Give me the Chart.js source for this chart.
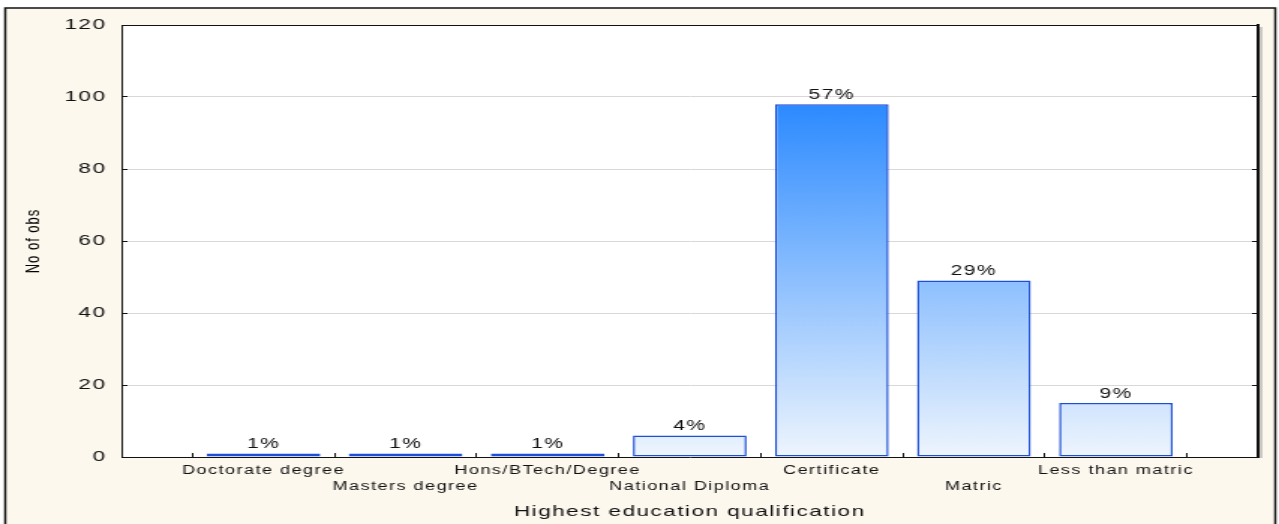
<!DOCTYPE html>
<html>
<head>
<meta charset="utf-8">
<script src="https://cdn.jsdelivr.net/npm/chart.js@4.4.1/dist/chart.umd.min.js"></script>
<style>
  html, body { margin: 0; padding: 0; background: #fff; overflow: hidden; }
</style>
</head>
<body>
<!-- the source picture is stretched sideways, so the canvas is drawn narrow and widened by css -->
<canvas id="chart" width="853" height="524" style="display:block;width:1279px;height:524px"></canvas>
<script>
const categories = [
  "Doctorate degree",
  "Masters degree",
  "Hons/BTech/Degree",
  "National Diploma",
  "Certificate",
  "Matric",
  "Less than matric",
];
const counts = [1, 1, 1, 6, 98, 49, 15];
// tick labels alternate between two rows
const labelRow = [0, 1, 0, 1, 0, 1, 0];
const yMin = 0;
const yMax = 120;
const yStep = 20;
const xTitle = "Highest education qualification";
const yTitle = "No of obs";

const total = counts.reduce((a, b) => a + b, 0);
// empty slot on each side, as in the original
const labels = ["", ...categories.map((c, i) => (labelRow[i] ? ["", c] : c)), ""];
const values = [null, ...counts, null];

const FONT = '"Liberation Sans", Arial, sans-serif';
const INK = "#111";
Chart.defaults.font.family = FONT;
Chart.defaults.color = INK;

function barFill(context) {
  const chart = context.chart;
  if (!chart.chartArea) return "#8fc4fa";
  const y = chart.scales.y;
  const g = chart.ctx.createLinearGradient(0, y.getPixelForValue(0), 0, y.getPixelForValue(100));
  g.addColorStop(0, "#eef5fd");
  g.addColorStop(1, "#2888ff");
  return g;
}

const frame = {
  id: "frame",
  beforeDraw(chart) {
    const { ctx, chartArea: a, width, height } = chart;
    ctx.save();
    ctx.fillStyle = "#fff";
    ctx.fillRect(0, 0, width, height);
    ctx.fillStyle = "#fdf8ee";
    ctx.fillRect(3.5, 8, 847, height);
    ctx.strokeStyle = "#111";
    ctx.lineWidth = 1.5;
    ctx.strokeRect(3.5, 8, 847, height + 10);
    ctx.fillStyle = "#fff";
    ctx.fillRect(a.left, a.top, a.width, a.height);
    ctx.restore();
    ctx.letterSpacing = "1px";
  },
  afterDraw(chart) {
    const { ctx, chartArea: a } = chart;
    ctx.save();
    ctx.strokeStyle = "#111";
    ctx.lineWidth = 1;
    ctx.beginPath();
    ctx.moveTo(a.left, a.top + 0.5);
    ctx.lineTo(a.right, a.top + 0.5);
    ctx.stroke();
    ctx.strokeStyle = "#999";
    ctx.beginPath();
    ctx.moveTo(a.right + 2, a.top + 2);
    ctx.lineTo(a.right + 2, a.bottom + 1);
    ctx.stroke();
    ctx.restore();
  },
};

const percentLabels = {
  id: "percentLabels",
  afterDatasetsDraw(chart) {
    const ctx = chart.ctx;
    const meta = chart.getDatasetMeta(0);
    ctx.save();
    ctx.font = "14px " + FONT;
    ctx.fillStyle = INK;
    ctx.textAlign = "center";
    ctx.textBaseline = "middle";
    meta.data.forEach((bar, i) => {
      const v = values[i];
      if (v == null) return;
      ctx.fillText(Math.round((v / total) * 100) + "%", bar.x, bar.y - 9);
    });
    ctx.restore();
  },
};

new Chart(document.getElementById("chart"), {
  type: "bar",
  data: {
    labels,
    datasets: [{
      data: values,
      backgroundColor: barFill,
      borderColor: "#1c4fd8",
      borderWidth: 1.5,
      borderSkipped: false,
      barPercentage: 0.8,
      categoryPercentage: 1,
    }],
  },
  options: {
    responsive: false,
    animation: false,
    layout: { padding: { left: 0, right: 14, top: 25, bottom: 0 } },
    plugins: {
      legend: { display: false },
      tooltip: { enabled: false },
    },
    scales: {
      x: {
        offset: false,
        grid: { drawOnChartArea: false, tickLength: -4, tickColor: "#111" },
        border: { color: "#111", width: 1 },
        ticks: {
          autoSkip: false,
          maxRotation: 0,
          minRotation: 0,
          padding: 10,
          color: INK,
          font: { size: 12, lineHeight: 1.33 },
        },
        title: {
          display: true,
          text: xTitle,
          color: INK,
          font: { size: 15 },
          padding: { top: 0, bottom: 3 },
        },
        afterFit(s) { s.height = 67; },
      },
      y: {
        min: yMin,
        max: yMax,
        ticks: { stepSize: yStep, padding: 14, color: INK, font: { size: 15 } },
        grid: { color: "#d8d8d8", tickLength: -4, tickColor: "#111" },
        border: { color: "#111", width: 1 },
        title: {
          display: true,
          text: yTitle,
          color: "#000",
          font: { size: 13 },
          padding: { top: 15, bottom: 0 },
        },
        afterFit(s) { s.width = 81; },
      },
      y2: {
        position: "right",
        min: yMin,
        max: yMax,
        ticks: { display: false, stepSize: yStep },
        grid: { drawOnChartArea: false, tickLength: -4, tickColor: "#111" },
        border: { color: "#111", width: 2 },
        afterFit(s) { s.width = 0; },
      },
    },
  },
  plugins: [frame, percentLabels],
});
</script>
</body>
</html>
